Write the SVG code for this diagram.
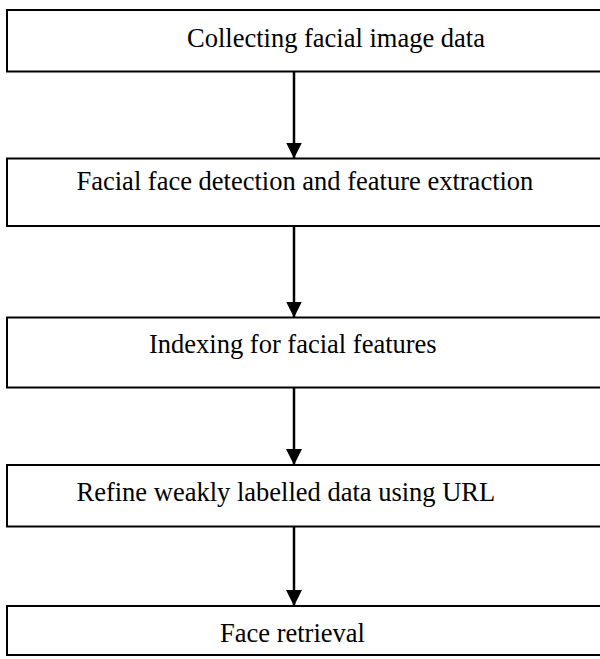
<svg xmlns="http://www.w3.org/2000/svg" width="600" height="659" viewBox="0 0 600 659">
<defs>
<style>
.box{fill:#fff;stroke:#000;stroke-width:2}
.lbl{font-family:"Liberation Serif","Times New Roman",serif;font-size:26.5px;fill:#000}
.conn{stroke:#000;stroke-width:2.5;fill:none}
</style>
<marker id="ah" markerWidth="16" markerHeight="16" viewBox="0 0 16 16" refX="16" refY="8" orient="auto" markerUnits="userSpaceOnUse">
<path d="M0,0 L16,8 L0,16 Z" fill="#000"/>
</marker>
</defs>
<rect width="600" height="659" fill="#fff"/>
<g id="n1"><rect class="box" x="7" y="10" width="610" height="61.5"/><text class="lbl" x="187" y="47">Collecting facial image data</text></g>
<g id="n2"><rect class="box" x="7" y="158.5" width="610" height="67.5"/><text class="lbl" x="76.5" y="190">Facial face detection and feature extraction</text></g>
<g id="n3"><rect class="box" x="7" y="317.5" width="610" height="70"/><text class="lbl" x="149" y="353">Indexing for facial features</text></g>
<g id="n4"><rect class="box" x="7" y="465" width="610" height="61.5"/><text class="lbl" x="76.5" y="501">Refine weakly labelled data using URL</text></g>
<g id="n5"><rect class="box" x="7" y="606" width="610" height="49"/><text class="lbl" x="220" y="642">Face retrieval</text></g>
<g id="connectors">
<line class="conn" x1="294" y1="71.5" x2="294" y2="158.5" marker-end="url(#ah)"/>
<line class="conn" x1="294" y1="226" x2="294" y2="317.5" marker-end="url(#ah)"/>
<line class="conn" x1="294" y1="387.5" x2="294" y2="465" marker-end="url(#ah)"/>
<line class="conn" x1="294" y1="526.5" x2="294" y2="606" marker-end="url(#ah)"/>
</g>
</svg>
